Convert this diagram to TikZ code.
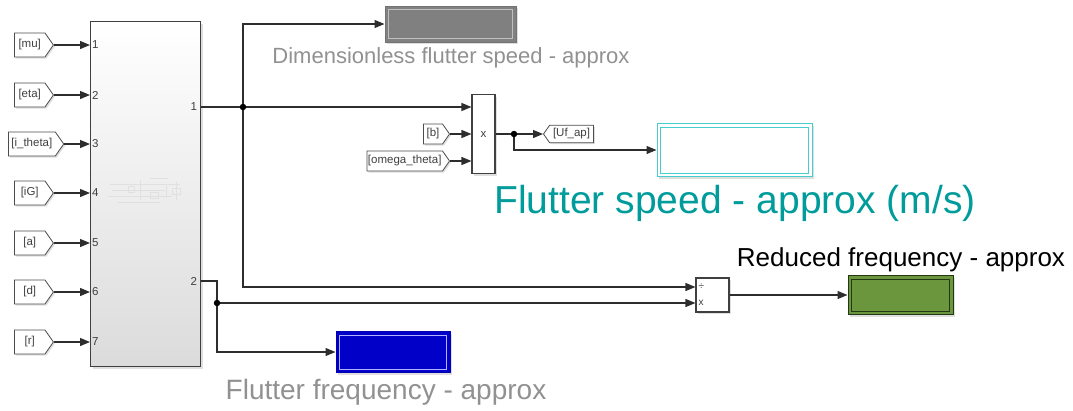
\documentclass[tikz,border=0pt]{standalone}
\usepackage{fontspec}
\setmainfont{Liberation Sans}
\usetikzlibrary{arrows.meta,shapes.symbols,shadows,calc}

\definecolor{wirec}{RGB}{45,45,45}
\definecolor{lblgray}{RGB}{145,145,145}
\definecolor{tealtxt}{RGB}{0,155,155}
\definecolor{dispgray}{RGB}{128,128,128}
\definecolor{dispcyan}{RGB}{70,205,205}
\definecolor{dispblue}{RGB}{0,0,200}
\definecolor{dispgreen}{RGB}{107,150,62}
\definecolor{darkgreen}{RGB}{35,55,20}

\tikzset{
  wire/.style={draw=wirec, line width=1.2pt},
  arr/.style={wire, -{Triangle[length=10pt,width=8pt]}},
  dot/.style={circle, fill=black, inner sep=0pt, minimum size=6.5pt},
  sig/.style={font=\fontsize{11.5}{13}\selectfont, text=black!75},
  tagfrom/.style={sig, draw=black!70, fill=white, line width=0.8pt,
    signal, signal to=east, signal pointer angle=110,
    inner xsep=3pt, minimum height=24pt,
    drop shadow={shadow xshift=1.5pt, shadow yshift=-1.5pt, opacity=0.25}},
  tagto/.style={sig, draw=black!70, fill=white, line width=0.8pt,
    signal, signal to=west, signal pointer angle=110,
    inner xsep=2pt, minimum height=15pt,
    drop shadow={shadow xshift=1.5pt, shadow yshift=-1.5pt, opacity=0.25}},
  blockbox/.style={draw=black!75, line width=1.1pt, fill=white,
    drop shadow={shadow xshift=2pt, shadow yshift=-2pt, opacity=0.25}},
  portlbl/.style={font=\fontsize{11.5}{13}\selectfont, text=black!75, inner sep=1pt},
  display/.style={line width=1pt, inner sep=0pt,
    drop shadow={shadow xshift=2pt, shadow yshift=-2pt, opacity=0.25}},
  thumb/.style={draw=black!12, line width=0.5pt}
}

\begin{document}
\begin{tikzpicture}[x=1pt,y=-1pt]
\useasboundingbox (0,0) rectangle (1073,410);

% ---------- main subsystem ----------
\node[draw=black!75, line width=1.1pt, top color=white, bottom color=black!14,
      minimum width=110pt, minimum height=345pt, anchor=north west,
      drop shadow={shadow xshift=2pt, shadow yshift=-2pt, opacity=0.25}]
      (sub) at (90,21) {};

% faint thumbnail of the inner model
\draw[thumb] (110,184) -- (180,184) (112,190) -- (165,190) (108,196) -- (172,196)
  (118,202) -- (160,202) (140,180) -- (140,200) (166,186) -- (166,198)
  (176,182) -- (176,200) (128,186) rectangle (134,192) (150,192) rectangle (158,198)
  (172,188) rectangle (180,194) (150,178) -- (168,178);

% input tags
\node[tagfrom, minimum width=39pt, anchor=west] (tmu) at (14,45)  {[mu]};
\node[tagfrom, minimum width=39pt, anchor=west] (teta) at (14,95) {[eta]};
\node[tagfrom, minimum width=55pt, anchor=west] (tith) at (8,144) {[i\_theta]};
\node[tagfrom, minimum width=39pt, anchor=west] (tig) at (14,193) {[iG]};
\node[tagfrom, minimum width=39pt, anchor=west] (ta) at (14,243)  {[a]};
\node[tagfrom, minimum width=39pt, anchor=west] (td) at (14,292)  {[d]};
\node[tagfrom, minimum width=39pt, anchor=west] (tr) at (14,342)  {[r]};

\foreach \t/\n in {tmu/1, teta/2, tith/3, tig/4, ta/5, td/6, tr/7}{
  \draw[arr] (\t.east) -- (\t.east -| sub.west);
  \node[portlbl, anchor=west] (in\n) at ($(\t.east -| sub.west)+(1,0)$) {\n};
}

% output ports
\coordinate (o1) at (sub.east |- 0,107);
\coordinate (o2) at (sub.east |- 0,281);
\node[portlbl, anchor=east] (out1) at ($(o1)+(-3,0)$) {1};
\node[portlbl, anchor=east] (out2) at ($(o2)+(-3,0)$) {2};

% ---------- displays ----------
\node[display, draw=black!55, fill=dispgray, minimum width=131pt, minimum height=36pt]
  (d1) at (450.5,24) {};
\draw[black!25, line width=0.8pt] ($(d1.north west)+(4,4)$) rectangle ($(d1.south east)+(-4,-4)$);
\node[font=\fontsize{22}{26}\selectfont, text=lblgray] (l1) at (451,58) {Dimensionless flutter speed - approx};

\node[display, draw=dispcyan, fill=white, minimum width=155pt, minimum height=53pt]
  (d2) at (734.5,150) {};
\draw[dispcyan, line width=0.8pt] ($(d2.north west)+(4,4)$) rectangle ($(d2.south east)+(-4,-4)$);
\node[font=\fontsize{39}{44}\selectfont, text=tealtxt] (l2) at (735,203) {Flutter speed - approx (m/s)};

\node[display, draw=blue!70!black, fill=dispblue, minimum width=114pt, minimum height=41pt]
  (d3) at (393,352) {};
\draw[blue!30!white, line width=0.8pt] ($(d3.north west)+(4,4)$) rectangle ($(d3.south east)+(-4,-4)$);
\node[font=\fontsize{28}{32}\selectfont, text=lblgray] (l3) at (386,392) {Flutter frequency - approx};

\node[display, draw=darkgreen, fill=dispgreen, minimum width=105pt, minimum height=39pt]
  (d4) at (900.5,295) {};
\draw[darkgreen, line width=0.8pt] ($(d4.north west)+(4,4)$) rectangle ($(d4.south east)+(-4,-4)$);
\node[font=\fontsize{26}{30}\selectfont, text=black] (l4) at (901,260) {Reduced frequency - approx};

% ---------- product block ----------
\node[blockbox, minimum width=23pt, minimum height=79pt] (prod) at (483.5,134) {};
\node[portlbl] (prodop) at (prod.center) {x};
\node[tagfrom, minimum height=20pt, minimum width=26pt, anchor=east] (tb) at (450,134) {[b]};
\node[tagfrom, minimum height=20pt, minimum width=82pt, anchor=east, inner xsep=1pt] (tom) at (450,161) {[omega\_theta]};
\node[tagto, minimum width=50pt, anchor=west] (tuf) at (543,134) {[Uf\_ap]};

% ---------- divide block ----------
\node[blockbox, minimum width=33pt, minimum height=34pt] (dv) at (712.5,295) {};
\node[portlbl, anchor=west, font=\fontsize{10}{12}\selectfont] (dvop1) at ($(dv.west |- 0,287)+(2,0)$) {÷};
\node[portlbl, anchor=west, font=\fontsize{10}{12}\selectfont] (dvop2) at ($(dv.west |- 0,303)+(2,0)$) {x};

% ---------- wiring ----------
\coordinate (j1) at (243,107);
\coordinate (j2) at (514,134);
\coordinate (j3) at (217,303);

\draw[wire] (o1) -- (j1);
\draw[arr] (j1) -- (j1 -| prod.west);
\draw[arr] (j1) |- (d1.west);
\draw[arr] (j1) |- (dv.west |- 0,287);

\draw[arr] (tb.east) -- (tb.east -| prod.west);
\draw[arr] (tom.east) -- (tom.east -| prod.west);
\draw[wire] (prod.east) -- (j2);
\draw[arr] (j2) -- (tuf.west);
\draw[arr] (j2) |- (d2.west);

\draw[wire] (o2) -| (j3);
\draw[arr] (j3) -- (dv.west |- j3);
\draw[arr] (j3) |- (d3.west);

\draw[arr] (dv.east) -- (d4.west);

% branch points
\foreach \j in {j1,j2,j3} \node[dot] at (\j) {};
\end{tikzpicture}
\end{document}
